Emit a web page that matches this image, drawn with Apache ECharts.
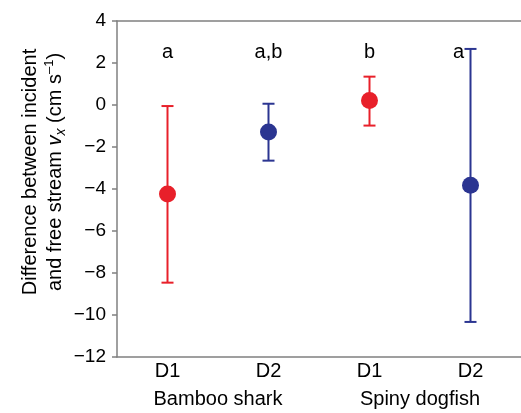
<!DOCTYPE html>
<html><head><meta charset="utf-8">
<script src="https://cdn.jsdelivr.net/npm/echarts@6/dist/echarts.min.js"></script>
<style>html,body{margin:0;padding:0;background:#fff}#c{width:521px;height:413px}</style>
</head><body><div id="c"></div>
<script>
const categories = ['D1','D2','D1','D2'];
const groups = ['Bamboo shark','Spiny dogfish'];
const means = [-4.24, -1.29, 0.21, -3.82];
const lowers = [-8.46, -2.65, -0.98, -10.33];
const uppers = [-0.05, 0.06, 1.35, 2.67];
const letters = ['a','a,b','b','a'];
const letterY = 2.5;
const colors = ['#e8202a','#2b3591','#e8202a','#2b3591'];
const yTicks = {min:-12, max:4, interval:2};

const font = 'Liberation Sans, Arial, sans-serif';
const chart = echarts.init(document.getElementById('c'));
const axisGray = '#808080';
chart.setOption({
  animation:false,
  grid:{left:117, top:21, width:408, height:336},
  xAxis:[
    {type:'category', data:categories, boundaryGap:true, position:'bottom',
     axisLine:{onZero:false, lineStyle:{color:axisGray,width:1.5}}, axisTick:{show:false},
     axisLabel:{color:'#000', fontSize:20, fontFamily:font, margin:4}},
    {type:'category', data:groups, boundaryGap:true, position:'bottom', offset:28,
     axisLine:{show:false, onZero:false}, axisTick:{show:false},
     axisLabel:{color:'#000', fontSize:20, fontFamily:font, margin:4}},
    {type:'category', data:categories, position:'top',
     axisLine:{onZero:false, lineStyle:{color:axisGray,width:1.5}}, axisTick:{show:false}, axisLabel:{show:false}}
  ],
  yAxis:{type:'value', min:yTicks.min, max:yTicks.max, interval:yTicks.interval,
    axisLine:{show:true, onZero:false, lineStyle:{color:axisGray,width:1.5}},
    axisTick:{show:true, length:5, lineStyle:{color:axisGray,width:1.5}},
    splitLine:{show:false},
    axisLabel:{color:'#000', fontSize:19, fontFamily:font, margin:11,
      formatter:v=> String(v).replace('-','\u2212')}},
  graphic:[{type:'text', x:43, y:172, rotation:Math.PI/2,
    style:{text:'{t|Difference between incident}\n{t|and free stream }{i|v}{s|x}{t| (cm s}{p|\u20131}{t|)}',
      align:'center', verticalAlign:'middle', fill:'#000', fontFamily:font, fontSize:20, lineHeight:25,
      rich:{t:{fontSize:20,fontFamily:font,lineHeight:25},
            i:{fontSize:20,fontFamily:font,fontStyle:'italic',lineHeight:25},
            s:{fontSize:14,fontFamily:font,fontStyle:'italic',verticalAlign:'bottom',lineHeight:17},
            p:{fontSize:13,fontFamily:font,verticalAlign:'top',lineHeight:13}}}}],
  series:[
    {type:'custom', xAxisIndex:0, z:2,
     data:categories.map((c,i)=>[i, lowers[i], uppers[i]]),
     renderItem:(params, api)=>{
       const i = api.value(0);
       const lo = api.coord([i, api.value(1)]);
       const hi = api.coord([i, api.value(2)]);
       const w = 6;
       const st = {stroke:colors[i], lineWidth:2};
       return {type:'group', children:[
         {type:'line', shape:{x1:lo[0],y1:lo[1],x2:hi[0],y2:hi[1]}, style:st},
         {type:'line', shape:{x1:lo[0]-w,y1:lo[1],x2:lo[0]+w,y2:lo[1]}, style:st},
         {type:'line', shape:{x1:hi[0]-w,y1:hi[1],x2:hi[0]+w,y2:hi[1]}, style:st}
       ]};
     }},
    {type:'scatter', xAxisIndex:0, z:3, symbol:'circle', symbolSize:17,
     itemStyle:{opacity:1},
     data:means.map((m,i)=>({value:[i,m], itemStyle:{color:colors[i], opacity:1}}))},
    {type:'scatter', xAxisIndex:0, z:4, symbolSize:0, itemStyle:{opacity:1},
     data:letters.map((l,i)=>({value:[i,letterY], name:l,
       label:{offset: i===3?[-12,0]:[0,0]}})),
     label:{show:true, position:'inside', formatter:p=>p.name, color:'#000', opacity:1, fontSize:20, fontFamily:font}}
  ]
});
</script></body></html>
